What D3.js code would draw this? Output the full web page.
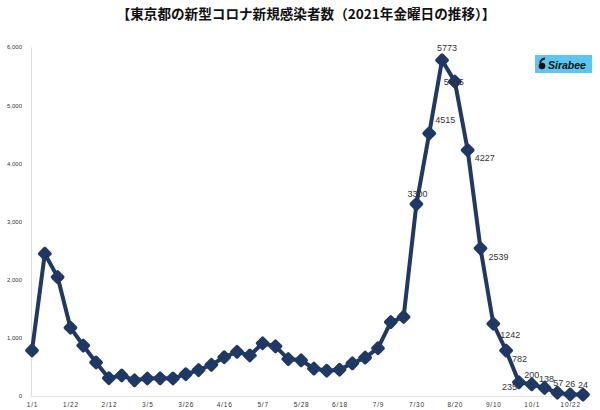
<!DOCTYPE html>
<html><head><meta charset="utf-8">
<script src="https://cdn.jsdelivr.net/npm/d3@7"></script>
<style>body{margin:0;background:#fff}svg{display:block}</style>
</head><body>
<svg id="c" width="600" height="410"></svg>
<script>
const dates = ["1/1","1/8","1/15","1/22","1/29","2/5","2/12","2/19","2/26","3/5","3/12","3/19","3/26","4/2","4/9","4/16","4/23","4/30","5/7","5/14","5/21","5/28","6/4","6/11","6/18","6/25","7/2","7/9","7/16","7/23","7/30","8/6","8/13","8/20","8/27","9/3","9/10","9/17","9/24","10/1","10/8","10/15","10/22","10/29"];
const cases = [783,2447,2044,1175,868,577,307,353,270,301,304,303,376,446,537,667,759,698,907,854,635,614,472,435,453,562,660,822,1271,1359,3300,4515,5773,5405,4227,2539,1242,782,235,200,138,57,26,24];
const xTickLabels = ["1/1","1/22","2/12","3/5","3/26","4/16","5/7","5/28","6/18","7/9","7/30","8/20","9/10","10/1","10/22"];
const yTicks = [0,1000,2000,3000,4000,5000,6000];
const labelledFrom = "7/30";
const title = "【東京都の新型コロナ新規感染者数（2021年金曜日の推移）】";

const svg = d3.select("#c");
const x = d3.scalePoint().domain(dates).range([32, 583]);
const y = d3.scaleLinear().domain([0, 6000]).range([396, 47]);
const navy = "#1f3864";

svg.append("text").attr("x", 306).attr("y", 19).attr("text-anchor", "middle")
  .attr("font-family", "Noto Sans CJK JP").attr("font-weight", 700).attr("font-size", 13.6)
  .attr("fill", "#111").text(title);

// axes
const yAxis = d3.axisLeft(y).tickValues(yTicks).tickFormat(d3.format(",")).tickSize(0).tickPadding(9);
const gy = svg.append("g").attr("transform", "translate(31,0)").call(yAxis);
gy.select(".domain").attr("stroke", "#ddd");
gy.selectAll("text").attr("font-family", "Liberation Sans").attr("font-size", 6).attr("fill", "#333");

const xAxis = d3.axisBottom(x).tickValues(xTickLabels).tickSize(0).tickPadding(6);
const gx = svg.append("g").attr("transform", "translate(0,396)").call(xAxis);
gx.select(".domain").attr("stroke", "#e3e3e3").attr("d", "M31,0.5H590");
gx.selectAll("text").attr("font-family", "Liberation Sans").attr("font-size", 6.5)
  .attr("fill", "#333").attr("letter-spacing", 0.8);

// line
const pts = dates.map((d, i) => ({d, v: cases[i], i}));
svg.append("path").datum(pts)
  .attr("d", d3.line().x(p => x(p.d)).y(p => y(p.v)))
  .attr("fill", "none").attr("stroke", navy).attr("stroke-width", 4).attr("stroke-linejoin", "round");

svg.selectAll("path.m").data(pts).join("path").attr("class", "m")
  .attr("transform", p => `translate(${x(p.d)},${y(p.v)}) rotate(45)`)
  .attr("d", "M-3.6,-3.6H3.6V3.6H-3.6Z").attr("stroke", navy).attr("stroke-width", 3.6)
  .attr("stroke-linejoin", "round").attr("fill", navy);

// data labels
const startIdx = dates.indexOf(labelledFrom);
const offsets = {
  "7/30": [1, -7, "middle"], "8/6": [6, -10, "start"], "8/13": [5, -9, "middle"],
  "8/20": [-1, 3, "middle"], "8/27": [7, 11, "start"], "9/3": [8, 12, "start"],
  "9/10": [7, 14, "start"], "9/17": [6, 11, "start"], "9/24": [-2, 8, "end"],
  "10/1": [0, -6, "middle"], "10/8": [2, -6, "middle"], "10/15": [1, -7, "middle"],
  "10/22": [0, -7, "middle"], "10/29": [0, -7, "middle"]
};
svg.selectAll("text.lbl").data(pts.filter(p => p.i >= startIdx)).join("text").attr("class", "lbl")
  .attr("x", p => x(p.d) + offsets[p.d][0]).attr("y", p => y(p.v) + offsets[p.d][1])
  .attr("text-anchor", p => offsets[p.d][2])
  .attr("font-family", "Liberation Sans").attr("font-size", 9).attr("fill", "#333").text(p => p.v);

// logo
const lg = svg.append("g").attr("transform", "translate(535,55)");
lg.append("rect").attr("width", 57).attr("height", 18).attr("fill", "#5bc6ef");
lg.append("circle").attr("cx", 7).attr("cy", 11).attr("r", 3.3).attr("fill", "#111");
lg.append("path").attr("d", "M5,8 Q6,4 10,3.5").attr("stroke", "#111").attr("stroke-width", 1.8).attr("fill", "none");
lg.append("text").attr("x", 13).attr("y", 13.5).attr("font-family", "Liberation Sans").attr("font-weight", 700)
  .attr("font-style", "italic").attr("font-size", 10.5).attr("fill", "#111").text("Sirabee");
</script>
</body></html>
